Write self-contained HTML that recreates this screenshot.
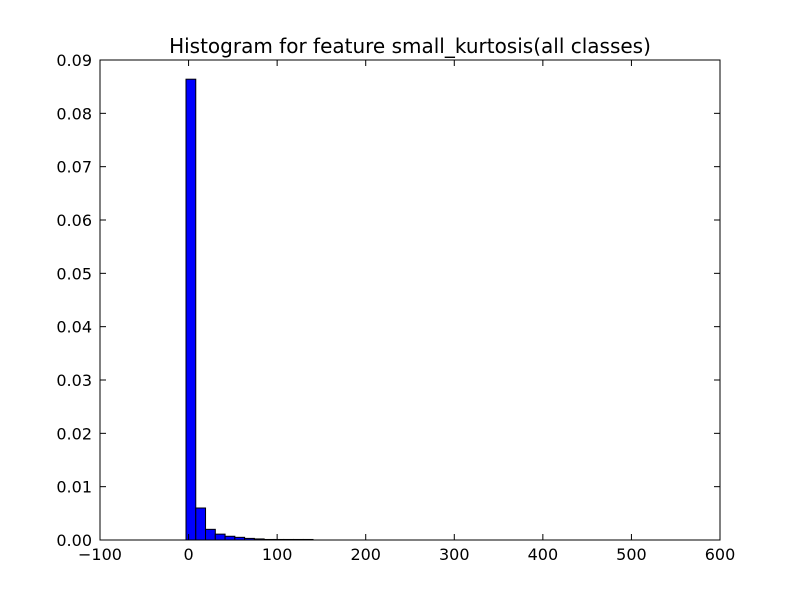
<!DOCTYPE html>
<html><head><meta charset="utf-8"><style>
body{margin:0;background:#fff;}
svg text{font-family:"DejaVu Sans","Liberation Sans",sans-serif;font-size:16px;fill:#000;}
</style></head><body>
<svg id="chart" width="800" height="600">
<rect width="800" height="600" fill="#fff"/>
<text x="410" y="53" text-anchor="middle" style="font-size:20px">Histogram for feature small_kurtosis(all classes)</text>
<g id="bars"></g>
<g id="axes"></g>
</svg>
<script>
const binStart = -2.9;
const binWidth = 11.03;
const densities = [0.0864, 0.0060, 0.0020, 0.0011, 0.0007, 0.0005, 0.0003, 0.0002, 0.0001, 0.0001, 0.0001, 0.0001, 0.0001];
const xTicks = [-100, 0, 100, 200, 300, 400, 500, 600];
const yTicks = [0.00, 0.01, 0.02, 0.03, 0.04, 0.05, 0.06, 0.07, 0.08, 0.09];

const L=100,R=720,T=60,B=540;
const xs=v=>L+(v+100)/700*(R-L);
const ys=v=>B-v/0.09*(B-T);
const NS='http://www.w3.org/2000/svg';
const bars=document.getElementById('bars'), axes=document.getElementById('axes');
function mk(tag,attrs,parent){const e=document.createElementNS(NS,tag);for(const k in attrs)e.setAttribute(k,attrs[k]);parent.appendChild(e);return e;}
densities.forEach((d,i)=>{
  const x0=xs(binStart+i*binWidth), x1=xs(binStart+(i+1)*binWidth);
  const r=mk('rect',{x:x0,y:ys(d),width:x1-x0,height:B-ys(d),fill:'#0000ff',stroke:'#000','stroke-width':1},bars);
  
  
});
const frame=mk('rect',{x:L,y:T,width:R-L,height:B-T,fill:'none',stroke:'#000','stroke-width':1},axes);


xTicks.forEach(v=>{
  const x=xs(v);
  mk('line',{x1:x,x2:x,y1:B,y2:B-6,stroke:'#000'},axes);
  mk('line',{x1:x,x2:x,y1:T,y2:T+6,stroke:'#000'},axes);
  const t=mk('text',{x:x,y:B+20,'text-anchor':'middle'},axes);
  t.textContent=String(v).replace('-','\u2212');
  
  
});
yTicks.forEach(v=>{
  const y=ys(v);
  mk('line',{x1:L,x2:L+6,y1:y,y2:y,stroke:'#000'},axes);
  mk('line',{x1:R,x2:R-6,y1:y,y2:y,stroke:'#000'},axes);
  const t=mk('text',{x:L-8,y:y+6,'text-anchor':'end'},axes);
  t.textContent=v.toFixed(2);
  
  
});
</script>
</body></html>
